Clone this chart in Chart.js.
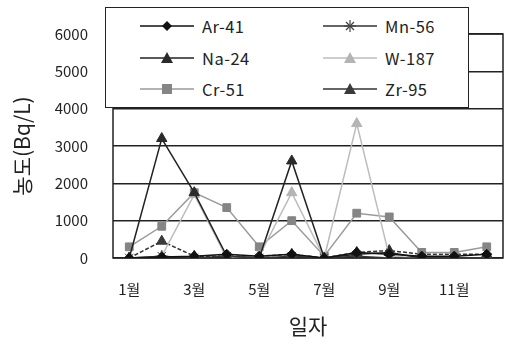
<!DOCTYPE html>
<html>
<head>
<meta charset="utf-8">
<script src="https://cdn.jsdelivr.net/npm/chart.js@4/dist/chart.umd.min.js"></script>
<style>
  body { margin: 0; background: #fff; }
  #wrap { position: relative; width: 510px; height: 342px; }
  #legend {
    position: absolute; left: 105px; top: 7px; width: 362px; height: 99px;
    border: 1.5px solid #222; background: #fff;
    font-family: "Noto Sans CJK KR", "DejaVu Sans", sans-serif; font-size: 16.5px; color: #222;
  }
  .item { position: absolute; display: flex; align-items: center; height: 20px; letter-spacing: 0.5px; }
  .item svg { margin-right: 8px; }
</style>
</head>
<body>
<div id="wrap">
  <canvas id="myChart" width="510" height="342"></canvas>
  <div id="legend"></div>
</div>
<script>
const months = ['1월', '2월', '3월', '4월', '5월', '6월', '7월', '8월', '9월', '10월', '11월', '12월'];
const yTicks = [0, 1000, 2000, 3000, 4000, 5000, 6000];

const ar41 = [0, 30, 50, 100, 50, 100, 0, 150, 100, 50, 50, 100];
const mn56 = [0, 50, 0, 50, 0, 50, 0, 50, 0, 0, 0, 0];
const na24 = [0, 3200, 1750, 50, 0, 2600, 0, 100, 150, 0, 0, 0];
const w187 = [0, 50, 1700, 0, 50, 1750, 0, 3600, 50, 0, 0, 0];
const cr51 = [300, 850, 1750, 1350, 300, 1000, 50, 1200, 1100, 150, 150, 300];
const zr95 = [0, 450, 50, 50, 50, 100, 0, 150, 200, 100, 100, 100];

const font = '"Noto Sans CJK KR", "DejaVu Sans", sans-serif';

function series(label, data, line, fill, style, radius, dash) {
  return {
    label: label, data: data,
    borderColor: line, backgroundColor: fill,
    pointStyle: style, pointRadius: radius, pointBorderColor: fill, pointBackgroundColor: fill,
    borderWidth: 1.5, pointBorderWidth: 1, borderDash: dash || [], tension: 0
  };
}

const datasets = [
  series('Ar-41', ar41, '#111', '#111', 'rectRot', 5),
  series('Mn-56', mn56, '#333', '#444', 'star', 6),
  series('Na-24', na24, '#222', '#2a2a2a', 'triangle', 6),
  series('W-187', w187, '#bcbcbc', '#b4b4b4', 'triangle', 6),
  series('Cr-51', cr51, '#9a9a9a', '#858585', 'rect', 5.5),
  series('Zr-95', zr95, '#333', '#3a3a3a', 'triangle', 6, [4, 2])
];
datasets.forEach((d, i) => { d.order = i; });

const boxPlugin = {
  id: 'box',
  beforeDatasetsDraw(chart) {
    const a = chart.chartArea, ctx = chart.ctx;
    ctx.save();
    ctx.strokeStyle = '#222';
    ctx.lineWidth = 1.5;
    ctx.strokeRect(a.left, a.top, a.right - a.left, a.bottom - a.top);
    ctx.restore();
  },
  afterDraw(chart) {
    const ctx = chart.ctx;
    ctx.save();
    ctx.fillStyle = '#222';
    ctx.textAlign = 'center';
    ctx.textBaseline = 'middle';
    ctx.font = '21px ' + font;
    ctx.fillText('일자', 308, 326);
    ctx.translate(22, 146);
    ctx.rotate(-Math.PI / 2);
    ctx.fillText('농도(Bq/L)', 0, 0);
    ctx.restore();
  }
};

new Chart(document.getElementById('myChart'), {
  type: 'line',
  data: { labels: months, datasets: datasets },
  options: {
    responsive: false,
    animation: false,
    layout: { padding: { top: 33, right: 1, left: 0, bottom: 0 } },
    plugins: { legend: { display: false }, tooltip: { enabled: false } },
    scales: {
      x: {
        offset: true,
        grid: { display: false, drawTicks: false },
        border: { display: false },
        ticks: {
          autoSkip: false, maxRotation: 0, padding: 22, color: '#222',
          font: { family: font, size: 15 },
          callback: (v, i) => (i % 2 === 0 ? months[i] : '')
        },
        afterFit: s => { s.height = 84; }
      },
      y: {
        min: 0, max: 6000,
        afterBuildTicks: s => { s.ticks = yTicks.map(v => ({ value: v })); },
        grid: { color: '#222', lineWidth: 1.5, drawTicks: false },
        border: { display: false },
        ticks: { padding: 25, color: '#222', font: { family: font, size: 15 }, callback: v => String(v) },
        afterFit: s => { s.width = 113; }
      }
    }
  },
  plugins: [boxPlugin]
});

// legend box drawn in html, two columns
const legend = document.getElementById('legend');
const rows = [18, 50, 81];
datasets.forEach((d, i) => {
  const col = i % 2, row = Math.floor(i / 2);
  const el = document.createElement('div');
  el.className = 'item';
  el.style.left = (col === 0 ? 34 : 217) + 'px';
  el.style.top = (rows[row] - 10) + 'px';
  let mark = '';
  const c = d.pointBackgroundColor;
  if (d.pointStyle === 'rectRot') mark = `<polygon points="27,1 32,6 27,11 22,6" fill="${c}"/>`;
  else if (d.pointStyle === 'rect') mark = `<rect x="22" y="1" width="10" height="10" fill="${c}"/>`;
  else if (d.pointStyle === 'triangle') mark = `<polygon points="27,0 33,11 21,11" fill="${c}"/>`;
  else mark = `<g stroke="${c}" stroke-width="1.2"><line x1="27" y1="0" x2="27" y2="12"/><line x1="21" y1="6" x2="33" y2="6"/><line x1="23" y1="2" x2="31" y2="10"/><line x1="31" y1="2" x2="23" y2="10"/></g>`;
  el.innerHTML = `<svg width="54" height="12"><line x1="0" y1="6" x2="54" y2="6" stroke="${d.borderColor}" stroke-width="1.5"/>${mark}</svg><span>${d.label}</span>`;
  legend.appendChild(el);
});
</script>
</body>
</html>
